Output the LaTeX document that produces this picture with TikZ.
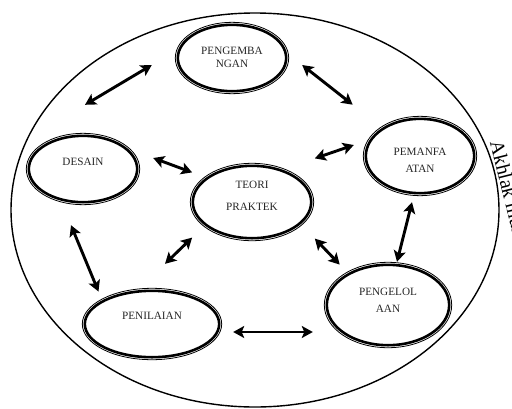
\documentclass[tikz,border=0pt]{standalone}
\usepackage{fontspec}
\setmainfont{Liberation Serif}
\usetikzlibrary{shapes.geometric,arrows.meta,calc}

\newcommand\lift[2]{\raisebox{#1}[\height][\depth]{\begin{tabular}{@{}c@{}}#2\end{tabular}}}

\tikzset{
  bubble/.style={ellipse, draw, line width=2.6pt, inner sep=0pt, outer sep=0pt,
    font=\fontsize{11.2}{13.5}\selectfont, text=black!85},
  rim/.style={line width=0.8pt},
  link/.style={line width=2.9pt,
    {Stealth[length=11pt,width=12pt,inset=2.5pt]}-{Stealth[length=11pt,width=12pt,inset=2.5pt]}},
}

\begin{document}
\begin{tikzpicture}[x=1pt,y=-1pt]
  \useasboundingbox (0,0) rectangle (512,408);
  % lingkaran luar
  \draw[line width=1.4pt] (255,210) ellipse (244pt and 197pt);
  \node[rotate=-76, anchor=base west, font=\fontsize{20}{22}\selectfont] (akhlak) at (489,139) {Akhlak mulia};

  % komponen
  \node[bubble, minimum width=108.4pt, minimum height=66.4pt] (pengembangan) at (232,58) {\lift{-0.5pt}{PENGEMBA\\NGAN}};
  \node[bubble, minimum width=108.4pt, minimum height=66.4pt] (desain) at (83,169) {\lift{6pt}{DESAIN}};
  \node[bubble, minimum width=118.4pt, minimum height=72.4pt] (teori) at (252,202) {\lift{5pt}{TEORI\\[8.5pt]PRAKTEK}};
  \node[bubble, minimum width=108.4pt, minimum height=74.4pt] (pemanfaatan) at (420,156) {\lift{-5pt}{PEMANFA\\[3.5pt]ATAN}};
  \node[bubble, minimum width=122.4pt, minimum height=80.4pt] (pengelolaan) at (388,305) {\lift{4pt}{PENGELOL\\[3.5pt]AAN}};
  \node[bubble, minimum width=134.4pt, minimum height=66.4pt] (penilaian) at (152,324) {\lift{7pt}{PENILAIAN}};

  % garis tipis di luar
  \foreach \b in {pengembangan,desain,teori,pemanfaatan,pengelolaan,penilaian}
    \draw[rim] let \p1=($(\b.east)-(\b.center)$), \p2=($(\b.north)-(\b.center)$) in
      (\b.center) ellipse ({\x1+2.5pt} and {\y2+2.5pt});

  % panah
  \draw[link] ([shift={(2,-31)}]desain.north) -- ([shift={(-26,7)}]pengembangan.west);
  \draw[link] ([shift={(16,7)}]pengembangan.east) -- ([shift={(-29,-25)}]pemanfaatan.north west);
  \draw[link] ([shift={(21,-18)}]teori.north east) -- ([shift={(-12,-11)}]pemanfaatan.west);
  \draw[link] ([shift={(16,-11)}]desain.east) -- ([shift={(-18,-4)}]teori.north west);
  \draw[link] ([shift={(-18,10)}]teori.south west) -- ([shift={(13,-27)}]penilaian.north);
  \draw[link] ([shift={(21,11)}]teori.south east) -- ([shift={(-5,-12)}]pengelolaan.north west);
  \draw[link] ([shift={(-8,9)}]pemanfaatan.south) -- ([shift={(9,-3)}]pengelolaan.north);
  \draw[link] ([shift={(-12,23)}]desain.south) -- ([shift={(-6,-9)}]penilaian.north west);
  \draw[link] ([shift={(14,8)}]penilaian.east) -- ([shift={(-14,27)}]pengelolaan.west);
\end{tikzpicture}
\end{document}
